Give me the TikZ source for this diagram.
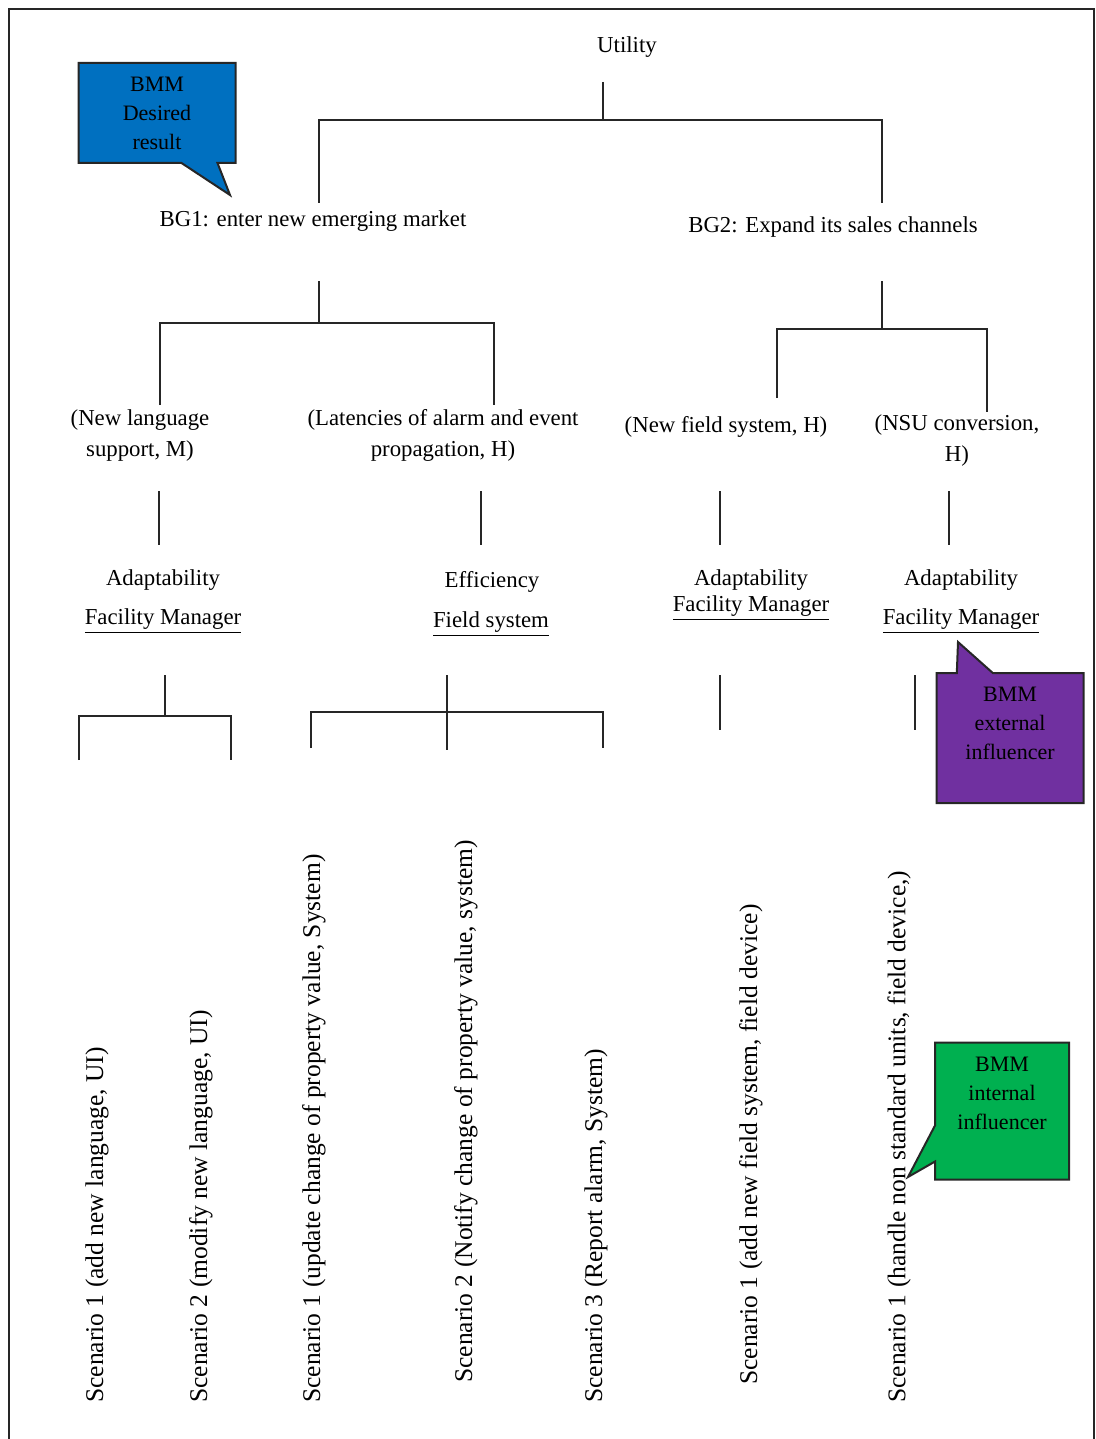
\documentclass[tikz,border=0pt]{standalone}
\usepackage{fontspec}
\setmainfont{Liberation Serif}
\usepackage{tikz}
\usetikzlibrary{shapes.callouts, positioning, calc}
\definecolor{bmmblue}{HTML}{0070C0}
\definecolor{bmmpurple}{HTML}{7030A0}
\definecolor{bmmgreen}{HTML}{00B050}

\begin{document}
\begin{tikzpicture}[x=0.5pt, y=-0.5pt, font=\fontsize{11.4}{15.5}\selectfont,
  tree/.style={line width=1.3pt, black!85},
  goal/.style={align=center, inner sep=0pt},
  scen/.style={rotate=90, anchor=west, inner sep=0pt, font=\fontsize{12.75}{15}\selectfont},
  bmm/.style={rectangle callout, draw=black!85, line width=1pt, align=center,
    callout pointer width=18pt, inner sep=2pt,
    font=\fontsize{11}{14.5}\selectfont}]
  \useasboundingbox (0,0) rectangle (1096,1439);

  % Rahmen
  \draw[line width=1pt, black!85] (9,1439) -- (9,9) -- (1094,9) -- (1094,1439);

  % Utility und Geschaeftsziele
  \node[goal] (utility) at (627,47) {Utility};
  \node[goal] (bgone) at (313,221) {BG1: enter new emerging market};
  \node[goal] (bgtwo) at (833,227) {BG2: Expand its sales channels};

  % Szenario-Verfeinerungen
  \node[goal] (newlang) at (140,436) {(New language\\support, M)};
  \node[goal] (latency) at (443,435) {(Latencies of alarm and event\\propagation, H)};
  \node[goal] (newfield) at (726,427) {(New field system, H)};
  \node[goal] (nsu) at (957,441) {(NSU conversion,\\H)};

  % Qualitaetsattribute und Stakeholder
  \node[goal] (adaptA) at (163,580) {Adaptability};
  \node[goal] (fmA) at (163,621) {\underline{Facility Manager}};
  \node[goal] (effB) at (492,582) {Efficiency};
  \node[goal] (fsB) at (491,624) {\underline{Field system}};
  \node[goal] (adaptC) at (751,580) {Adaptability};
  \node[goal] (fmC) at (751,608) {\underline{Facility Manager}};
  \node[goal] (adaptD) at (961,580) {Adaptability};
  \node[goal] (fmD) at (961,621) {\underline{Facility Manager}};

  % Baum: Utility -> BG1 / BG2
  \coordinate (stemU) at (603,82);
  \coordinate (legUa) at (319,203);
  \coordinate (legUb) at (882,203);
  \draw[tree] (stemU) -- ++(0,38) coordinate (forkU) (legUa) |- (forkU) -| (legUb);

  % BG1 -> Verfeinerungen
  \coordinate (stemBGa) at (319,281);
  \coordinate (legBGaa) at (160,405);
  \coordinate (legBGab) at (494,405);
  \draw[tree] (stemBGa) -- ++(0,42) coordinate (forkBGa) (legBGaa) |- (forkBGa) -| (legBGab);

  % BG2 -> Verfeinerungen
  \coordinate (stemBGb) at (882,281);
  \coordinate (legBGba) at (777,398);
  \coordinate (legBGbb) at (987,412);
  \draw[tree] (stemBGb) -- ++(0,48) coordinate (forkBGb) (legBGba) |- (forkBGb) -| (legBGbb);

  % Verfeinerung -> Qualitaetsattribut
  \foreach \nm/\x in {A/159, B/481, C/720, D/949} {
    \coordinate (qtop\nm) at (\x,491);
    \coordinate (qbot\nm) at (\x,545);
    \draw[tree] (qtop\nm) -- (qbot\nm);
  }

  % Stakeholder -> Szenarien
  \coordinate (stemA) at (165,675);
  \coordinate (legAa) at (79,760);
  \coordinate (legAb) at (231,760);
  \draw[tree] (stemA) -- ++(0,41) coordinate (forkA) (legAa) |- (forkA) -| (legAb);

  \coordinate (stemB) at (447,675);
  \coordinate (legBa) at (311,748);
  \coordinate (legBb) at (603,748);
  \draw[tree] (stemB) -- ++(0,75);
  \draw[tree] (legBa) |- (447,712) -| (legBb);

  \coordinate (stemC) at (720,675);
  \draw[tree] (stemC) -- ++(0,55);
  \coordinate (stemD) at (915,675);
  \draw[tree] (stemD) -- ++(0,55);

  % Szenarien (gedreht)
  \node[scen] (scA1) at (97,1403) {Scenario 1 (add new language, UI)};
  \node[scen] (scA2) at (201,1403) {Scenario 2 (modify new language, UI)};
  \node[scen] (scB1) at (314,1403) {Scenario 1 (update change of property value, System)};
  \node[scen] (scB2) at (466,1383) {Scenario 2 (Notify change of property value, system)};
  \node[scen] (scB3) at (596,1403) {Scenario 3 (Report alarm, System)};
  \node[scen] (scC1) at (751,1385) {Scenario 1 (add new field system, field device)};
  \node[scen] (scD1) at (899,1403) {Scenario 1 (handle non standard units, field device,)};

  % BMM-Sprechblasen
  \node[bmm, fill=bmmblue, minimum width=78.5pt, minimum height=50pt,
    callout absolute pointer={(230,195)}] (desired) at (157,113) {BMM\\Desired\\result};
  \node[bmm, fill=bmmpurple, minimum width=73.5pt, minimum height=65pt, text depth=15pt,
    callout absolute pointer={(958,642)}] (external) at (1010,738) {BMM\\external\\influencer};
  \node[bmm, fill=bmmgreen, minimum width=67pt, minimum height=68.5pt, text depth=18pt,
    callout absolute pointer={(908,1177)}] (internal) at (1002,1111) {BMM\\internal\\influencer};
\end{tikzpicture}
\end{document}
